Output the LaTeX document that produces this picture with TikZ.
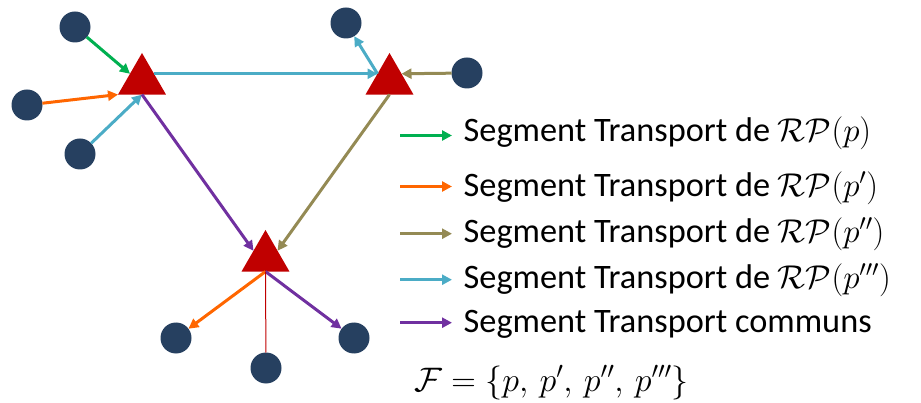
\RequirePackage{fix-cm}
\documentclass[tikz,border=0pt]{standalone}
\usepackage{fontspec}
\setmainfont{Carlito}
\usetikzlibrary{arrows.meta,shapes.geometric}
\definecolor{navy}{RGB}{38,64,96}
\definecolor{trired}{RGB}{192,0,0}
\definecolor{gr}{RGB}{0,176,80}
\definecolor{orng}{RGB}{255,102,0}
\definecolor{olv}{RGB}{148,138,84}
\definecolor{cyn}{RGB}{75,172,198}
\definecolor{purp}{RGB}{112,48,160}
\newcommand{\rpm}[1]{{\fontsize{33}{38}\selectfont$\mathcal{R}\mathcal{P}(#1)$}}
\begin{document}
\begin{tikzpicture}[x=1pt,y=-1pt,
  dot/.style={circle,fill=navy,minimum size=31pt,inner sep=0pt,outer sep=0pt},
  tri/.style={regular polygon,regular polygon sides=3,fill=trired,minimum size=55.4pt,inner sep=0pt,outer sep=0pt},
  arr/.style={line width=3pt,-{Triangle[length=10pt,width=10pt]}},
  leg/.style={inner sep=0pt,font=\fontsize{34.3}{40}\selectfont}]
\useasboundingbox (0,0) rectangle (921,403);
% circles
\node[dot] (c1) at (75,27) {};
\node[dot] (c2) at (27,105) {};
\node[dot] (c3) at (80,154) {};
\node[dot] (c4) at (346,23) {};
\node[dot] (c5) at (467,73) {};
\node[dot] (c6) at (176,338) {};
\node[dot] (c7) at (266,368) {};
\node[dot] (c8) at (354,338) {};
% triangles
\node[tri] (L) at (142,80.7) {};
\node[tri] (R) at (389.5,80.7) {};
\node[tri] (B) at (265.5,257.7) {};
% connectors
\draw[arr,gr] (c1) -- (L.side 1);
\draw[arr,orng] (c2) -- (L.corner 2);
\draw[arr,cyn] (c3) -- (L.side 2);
\draw[arr,cyn] (L.side 3) -- (R.side 1);
\draw[arr,cyn] (R.side 1) -- (c4);
\draw[arr,olv] (c5) -- (R.side 3);
\draw[arr,olv] (R.side 2) -- (B.side 3);
\draw[arr,purp] (L.side 2) -- (B.side 1);
\draw[arr,orng] (B.side 2) -- (c6);
\draw[arr,purp] (B.side 2) -- (c8);
\draw[trired,line width=1pt] (B.side 2) -- (c7);
% legend
\node[leg,anchor=base west] (t1) at (463.5,141.7) {Segment Transport de \rpm{p}};
\node[leg,anchor=base west] (t2) at (463.5,196.7) {Segment Transport de \rpm{p'}};
\node[leg,anchor=base west] (t3) at (463.5,242.5) {Segment Transport de \rpm{p''}};
\node[leg,anchor=base west] (t4) at (463.5,288.5) {Segment Transport de \rpm{p'''}};
\node[leg,anchor=base west] (t5) at (463.5,332.3) {Segment Transport communs};
\node[inner sep=0pt,font=\fontsize{34}{40}\selectfont,anchor=base west] (f) at (414,391) {$\mathcal{F}=\{p,\,p',\,p'',\,p'''\}$};
\coordinate (a1s) at (400,135.5); \coordinate (a1e) at (452,135.5);
\coordinate (a2s) at (400,186.5); \coordinate (a2e) at (452,186.5);
\coordinate (a3s) at (400,233.7); \coordinate (a3e) at (452,233.7);
\coordinate (a4s) at (400,279.7); \coordinate (a4e) at (452,279.7);
\coordinate (a5s) at (400,322.7); \coordinate (a5e) at (452,322.7);
\draw[arr,gr] (a1s) -- (a1e);
\draw[arr,orng] (a2s) -- (a2e);
\draw[arr,olv] (a3s) -- (a3e);
\draw[arr,cyn] (a4s) -- (a4e);
\draw[arr,purp] (a5s) -- (a5e);
\end{tikzpicture}
\end{document}
